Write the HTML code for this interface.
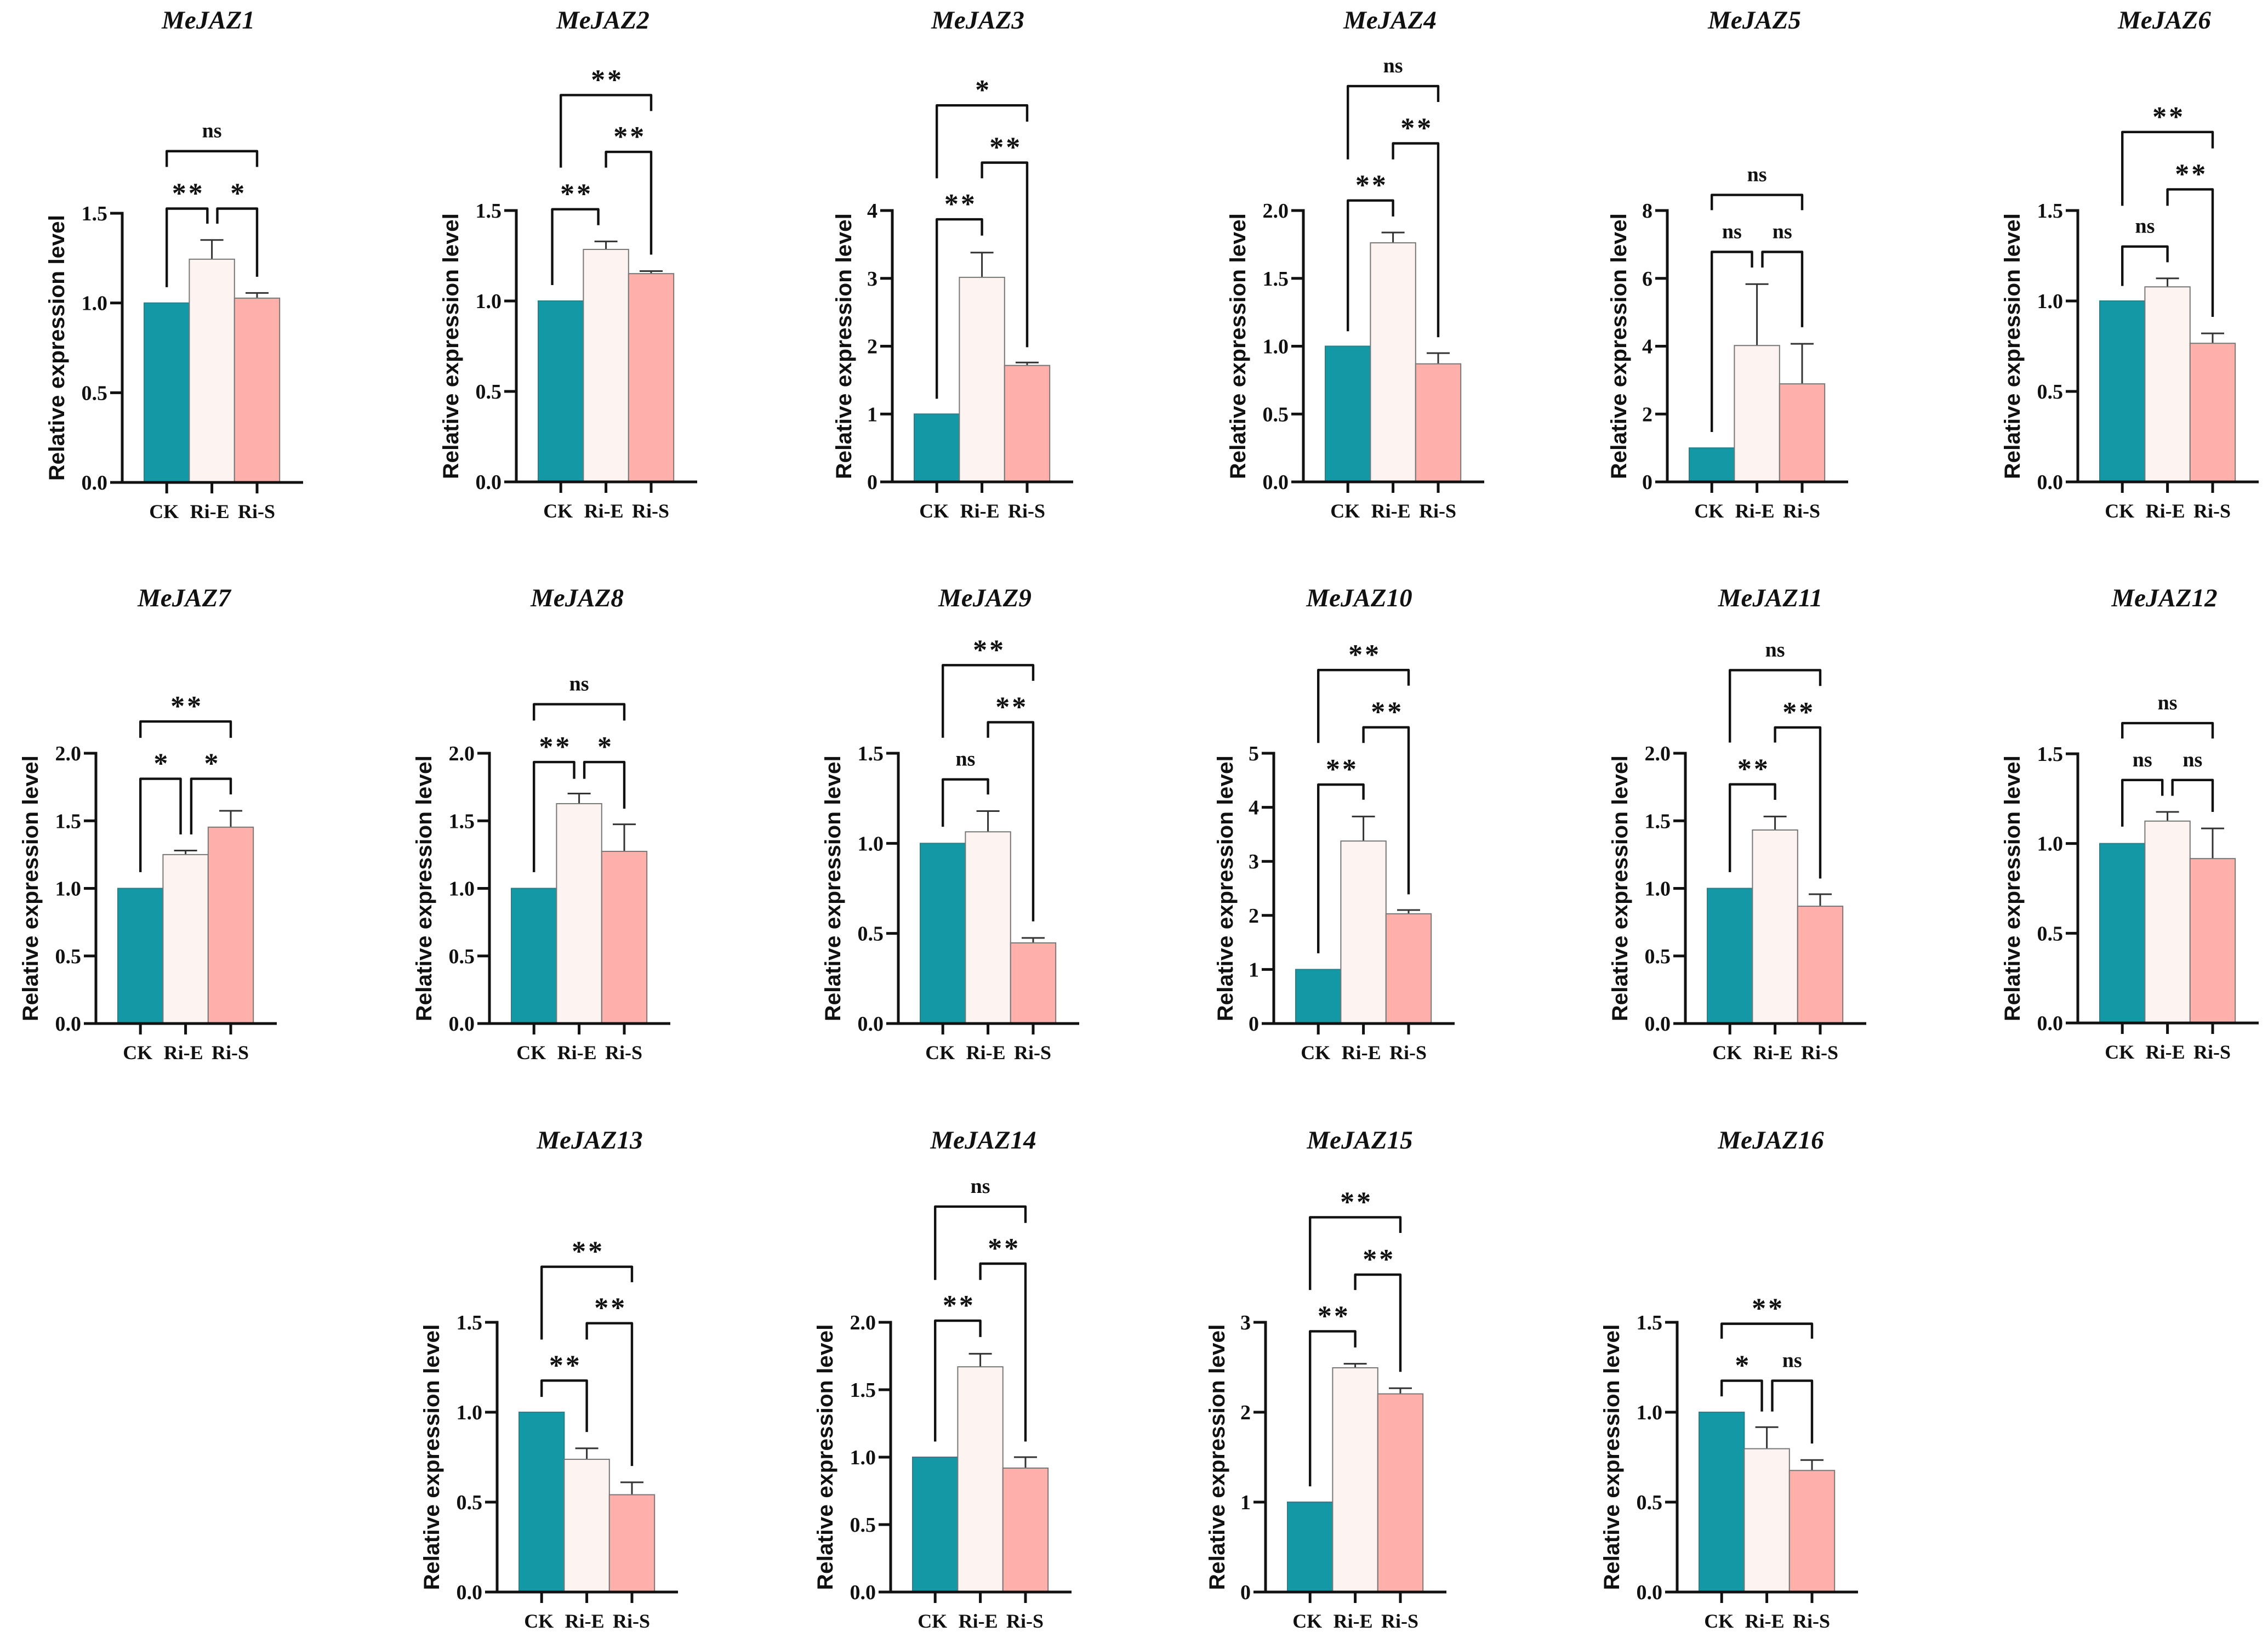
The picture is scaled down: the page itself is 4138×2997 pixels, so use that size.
<!DOCTYPE html>
<html lang="en">
<head>
<meta charset="utf-8">
<title>MeJAZ relative expression levels</title>
<style>
html,body{margin:0;padding:0;background:#fff;}
svg{display:block;}
.serif{font-family:"Liberation Serif",serif;font-weight:bold;fill:#111;}
.sans{font-family:"Liberation Sans",sans-serif;font-weight:bold;fill:#111;}
</style>
</head>
<body>
<svg id="figure" xmlns="http://www.w3.org/2000/svg" width="4138" height="2997" viewBox="0 0 4138 2997"></svg>
<script>
const categories = ['CK', 'Ri-E', 'Ri-S'];
const genes = ['MeJAZ1','MeJAZ2','MeJAZ3','MeJAZ4','MeJAZ5','MeJAZ6','MeJAZ7','MeJAZ8','MeJAZ9','MeJAZ10','MeJAZ11','MeJAZ12','MeJAZ13','MeJAZ14','MeJAZ15','MeJAZ16'];
const tickLabelSets = [
  ['0.0','0.5','1.0','1.5'],['0.0','0.5','1.0','1.5'],['0','1','2','3','4'],['0.0','0.5','1.0','1.5','2.0'],
  ['0','2','4','6','8'],['0.0','0.5','1.0','1.5'],['0.0','0.5','1.0','1.5','2.0'],['0.0','0.5','1.0','1.5','2.0'],
  ['0.0','0.5','1.0','1.5'],['0','1','2','3','4','5'],['0.0','0.5','1.0','1.5','2.0'],['0.0','0.5','1.0','1.5'],
  ['0.0','0.5','1.0','1.5'],['0.0','0.5','1.0','1.5','2.0'],['0','1','2','3'],['0.0','0.5','1.0','1.5']
];
const meanCK  = [1,1,1,1,1,1,1,1,1,1,1,1,1,1,1,1];
const meanRiE = [1.244,1.285,3.015,1.762,4.02,1.078,1.25,1.627,1.064,3.376,1.432,1.125,0.738,1.67,2.494,0.797];
const meanRiS = [1.027,1.151,1.716,0.87,2.89,0.766,1.453,1.274,0.4475,2.03,0.868,0.916,0.541,0.919,2.204,0.676];
const errCK   = [0,0,0,0,0,0,0,0,0,0,0,0,0,0,0,0];
const errRiE  = [0.107,0.044,0.365,0.076,1.81,0.047,0.03,0.075,0.115,0.454,0.1,0.051,0.061,0.097,0.045,0.12];
const errRiS  = [0.029,0.014,0.044,0.079,1.18,0.055,0.121,0.2,0.0275,0.07,0.089,0.168,0.069,0.081,0.063,0.058];
/* brackets: [from category, to category, top value, left-leg end value, right-leg end value, label] */
const bracketsLeft = [
  [0,0.9,1.526,1.088,1.442,'**'],[-0.19,0.83,1.507,1.088,1.419,'**'],[0,1,3.87,1.225,3.63,'**'],[0,1,2.074,1.11,1.956,'**'],
  [0,0.89,6.78,1.47,6.32,'ns'],[0,1,1.301,1.083,1.214,'ns'],[0,0.89,1.811,1.12,1.399,'*'],[0,0.89,1.935,1.12,1.811,'**'],
  [0,1,1.355,1.092,1.271,'ns'],[0,1,4.42,1.3,4.14,'**'],[0,1,1.77,1.12,1.655,'**'],[0,0.886,1.354,1.094,1.266,'ns'],
  [0,1,1.176,1.085,0.89,'**'],[0,1,2.012,1.116,1.891,'**'],[0,1,2.9,1.175,2.72,'**'],[0,0.89,1.175,1.088,1.004,'*']
];
const bracketsRight = [
  [1.12,2,1.526,1.442,1.146,'*'],[1,2,1.824,1.737,1.256,'**'],[1,2,4.706,4.475,1.985,'**'],[1,2,2.495,2.377,1.066,'**'],
  [1.12,2,6.78,6.32,4.56,'ns'],[1,2,1.617,1.526,0.912,'**'],[1.125,2,1.811,1.399,1.695,'*'],[1.115,2,1.935,1.811,1.59,'*'],
  [1,2,1.672,1.586,0.567,'**'],[1,2,5.48,5.19,2.39,'**'],[1,2,2.191,2.079,1.073,'**'],[1.11,2,1.354,1.266,1.176,'ns'],
  [1,2,1.495,1.404,0.701,'**'],[1,2,2.435,2.314,1.116,'**'],[1,2,3.53,3.359,2.449,'**'],[1.12,2,1.175,1.004,0.826,'ns']
];
const bracketsTop = [
  [0,2,1.846,1.758,1.758,'ns'],[0,2,2.138,1.737,2.05,'**'],[0,2,5.55,4.475,5.31,'*'],[0,2,2.917,2.377,2.8,'ns'],
  [0,2,8.46,8.01,8.01,'ns'],[0,2,1.934,1.526,1.843,'**'],[0,2,2.235,2.114,2.114,'**'],[0,2,2.363,2.242,2.242,'ns'],
  [0,2,1.989,1.586,1.902,'**'],[0,2,6.54,5.19,6.25,'**'],[0,2,2.615,2.079,2.498,'ns'],[0,2,1.671,1.585,1.585,'ns'],
  [0,2,1.809,1.404,1.723,'**'],[0,2,2.858,2.314,2.737,'ns'],[0,2,4.168,3.359,3.994,'**'],[0,2,1.492,1.409,1.409,'**']
];

/* Page layout of the 16 panels (not data) */
const axisLeft = [223,942,1628,2378,3042,3791,175,893,1639,2324,3075,3791,907,1625,2309,3060];
const axisTop  = [389,384,384,384,384,384,1374,1374,1374,1374,1374,1375,2412,2412,2412,2412];
const axisBase = [880,879,879,879,879,879,1867,1867,1867,1867,1867,1866,2904,2904,2904,2904];
const titleBase = [52,52,52,52,52,52,1106,1106,1106,1106,1106,1106,2095,2095,2095,2095];
const titleShift = [157,158,156,158,159,158,161,160,158,156,155,158,169,169,172,171];

const barFill = ['#1398a6', '#fdf3f0', '#ffb0aa'];
const barStroke = ['#2a7f89', '#777777', '#777777'];
const NS = 'http://www.w3.org/2000/svg';
const svg = document.getElementById('figure');

function make(parent, tag, attrs, text) {
  const el = document.createElementNS(NS, tag);
  for (const k in attrs) el.setAttribute(k, attrs[k]);
  if (text !== undefined) el.textContent = text;
  parent.appendChild(el);
  return el;
}

function drawPanel(i) {
  const ax = axisLeft[i], top = axisTop[i], base = axisBase[i];
  const labels = tickLabelSets[i];
  const maxV = parseFloat(labels[labels.length - 1]);
  const yScale = v => base - (v / maxV) * (base - top);
  const BAR_W = 82.4, BAR_START = 40;
  const xCenter = c => ax + BAR_START + BAR_W * (c + 0.5);
  const means = [meanCK[i], meanRiE[i], meanRiS[i]];
  const errs = [errCK[i], errRiE[i], errRiS[i]];
  const integerTicks = labels[0] === '0';

  const g = make(svg, 'g', {});
  
  

  const title = make(g, 'text', {x: ax + titleShift[i], y: titleBase[i], class: 'serif', 'font-style': 'italic', 'font-size': 47, 'text-anchor': 'middle'}, genes[i]);
  
  

  const yTitleX = ax - (integerTicks ? 75 : 106);
  const yTitle = make(g, 'text', {transform: 'translate(' + yTitleX + ',' + ((top + base) / 2) + ') rotate(-90)', class: 'sans', 'font-size': 40, 'text-anchor': 'middle', textLength: 485, lengthAdjust: 'spacingAndGlyphs'}, 'Relative expression level');
  
  

  categories.forEach((name, c) => {
    const x0 = xCenter(c) - BAR_W / 2;
    if (errs[c] > 0) {
      const errGroup = make(g, 'path', {d: 'M' + xCenter(c) + ' ' + yScale(means[c]) + 'V' + yScale(means[c] + errs[c]) + 'M' + (xCenter(c) - 21) + ' ' + yScale(means[c] + errs[c]) + 'H' + (xCenter(c) + 21), fill: 'none', stroke: '#333', 'stroke-width': 3});
      
      
    }
    const bar = make(g, 'rect', {x: x0, y: yScale(means[c]), width: BAR_W, height: base - yScale(means[c]), fill: barFill[c], stroke: barStroke[c], 'stroke-width': 2});
    
    
  });

  const yAxis = make(g, 'path', {d: 'M' + ax + ' ' + (top - 2.5) + 'V' + (base + 2), fill: 'none', stroke: '#111', 'stroke-width': 5});
  
  

  const xAxis = make(g, 'path', {d: 'M' + (ax - 22) + ' ' + base + 'H' + (ax + 330), fill: 'none', stroke: '#111', 'stroke-width': 5});
  
  

  labels.forEach(t => {
    const y = yScale(parseFloat(t));
    const tick = make(g, 'path', {d: 'M' + (ax - 22) + ' ' + y + 'H' + ax, fill: 'none', stroke: '#111', 'stroke-width': 5});
    
    
    const label = make(g, 'text', {x: ax - 27, y: y + 13, class: 'serif', 'font-size': 38, 'text-anchor': 'end'}, t);
    
    
  });

  const catShift = [-5, -4, -1];
  categories.forEach((name, c) => {
    const tick = make(g, 'path', {d: 'M' + xCenter(c) + ' ' + base + 'V' + (base + 20), fill: 'none', stroke: '#111', 'stroke-width': 5});
    
    
    const label = make(g, 'text', {x: xCenter(c) + catShift[c], y: base + 65, class: 'serif', 'font-size': 36, 'text-anchor': 'middle'}, name);
    
    
  });

  [bracketsLeft[i], bracketsRight[i], bracketsTop[i]].forEach(b => {
    const x1 = xCenter(b[0]), x2 = xCenter(b[1]), yTop = yScale(b[2]);
    const path = make(g, 'path', {d: 'M' + x1 + ' ' + yScale(b[3]) + 'V' + yTop + 'H' + x2 + 'V' + yScale(b[4]), fill: 'none', stroke: '#111', 'stroke-width': 4.4, 'stroke-linejoin': 'round'});
    
    
    const isNs = b[5] === 'ns';
    const sig = make(g, 'text', {x: (x1 + x2) / 2 + (isNs ? 0 : 2.5), y: yTop - (isNs ? 25 : 11), class: 'serif', 'font-size': isNs ? 38 : 52, 'letter-spacing': isNs ? 0 : 4, 'text-anchor': 'middle'}, b[5]);
    
    
  });
}

genes.forEach((_, i) => drawPanel(i));
</script>
</body>
</html>
